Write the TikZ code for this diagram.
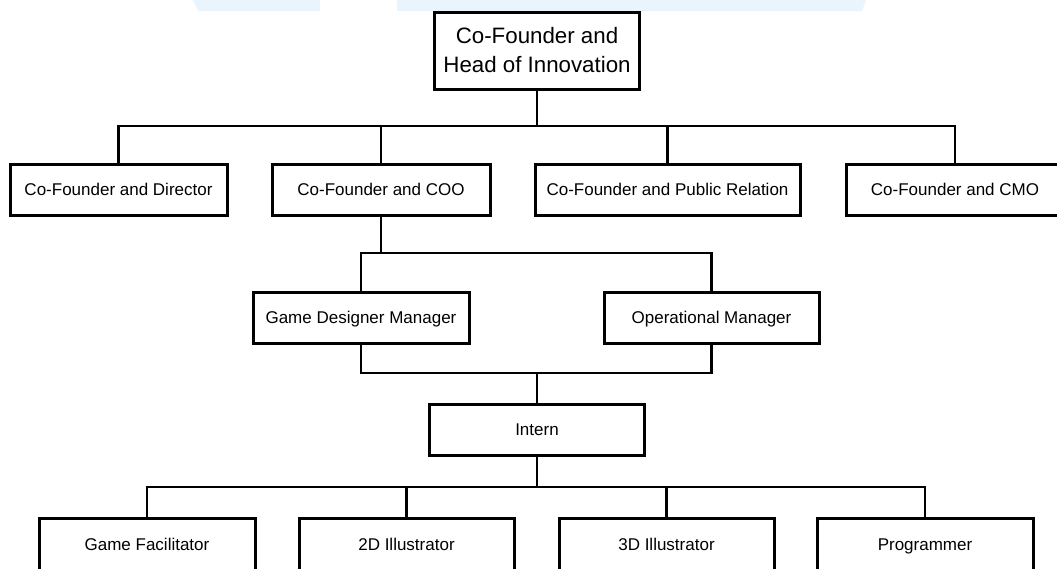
\documentclass[tikz,border=0pt]{standalone}
\usepackage{fontspec}
\setmainfont{Liberation Sans}
\definecolor{bandblue}{RGB}{234,244,253}
\begin{document}
\begin{tikzpicture}[x=1pt,y=-1pt,
  box/.style={draw=black,line width=3pt,fill=white,inner sep=0pt,minimum height=51pt,
    text height=12.2pt,text depth=0pt,font=\fontsize{17}{20}\selectfont},
  topbox/.style={draw=black,line width=3pt,fill=white,inner sep=0pt,align=center,
    minimum width=205pt,minimum height=77pt,font=\fontsize{22.3}{29}\selectfont},
  conn/.style={draw=black,line width=2.2pt}]
\useasboundingbox (0,0) rectangle (1057,568);
\clip (0,0) rectangle (1057,568);
% light band at top
\fill[bandblue] (193,0) -- (320,0) -- (320,11) -- (198,11) -- cycle;
\fill[bandblue] (397,0) -- (866,0) -- (862,11) -- (397,11) -- cycle;
% nodes
\node[topbox] (top) at (537,50.5) {Co-Founder and\\Head of Innovation};
\node[box,minimum width=217pt] (dir) at (118.5,189.5) {Co-Founder and Director};
\node[box,minimum width=218pt] (coo) at (381,189.5) {Co-Founder and COO};
\node[box,minimum width=265pt] (pr) at (667.5,189.5) {Co-Founder and Public Relation};
\node[box,minimum width=218pt] (cmo) at (955,189.5) {Co-Founder and CMO};
\node[box,minimum width=216pt] (gdm) at (361,317.5) {Game Designer Manager};
\node[box,minimum width=215pt] (om) at (711.5,317.5) {Operational Manager};
\node[box,minimum width=215pt] (intern) at (537,429.5) {Intern};
\node[box,minimum width=216pt,minimum height=52pt] (gf) at (147,544) {Game Facilitator};
\node[box,minimum width=215pt,minimum height=52pt] (i2d) at (406.5,544) {2D Illustrator};
\node[box,minimum width=215pt,minimum height=52pt] (i3d) at (666.5,544) {3D Illustrator};
\node[box,minimum width=216pt,minimum height=52pt] (prog) at (925,544) {Programmer};
% bus points
\coordinate (b1) at (537,126);
\coordinate (b2) at (381,253);
\coordinate (b3) at (537,373);
\coordinate (b4) at (537,487);
% connectors
\draw[conn] (top.south) -- (b1);
\draw[conn] (dir.north) |- (b1);
\draw[conn] (cmo.north) |- (b1);
\draw[conn] (coo.north) -- (coo.north |- b1);
\draw[conn] (pr.north) -- (pr.north |- b1);
\draw[conn] (coo.south) -- (b2);
\draw[conn] (gdm.north) |- (b2);
\draw[conn] (om.north) |- (b2);
\draw[conn] (gdm.south) |- (b3);
\draw[conn] (om.south) |- (b3);
\draw[conn] (intern.north) -- (b3);
\draw[conn] (intern.south) -- (b4);
\draw[conn] (gf.north) |- (b4);
\draw[conn] (prog.north) |- (b4);
\draw[conn] (i2d.north) -- (i2d.north |- b4);
\draw[conn] (i3d.north) -- (i3d.north |- b4);
\end{tikzpicture}
\end{document}
